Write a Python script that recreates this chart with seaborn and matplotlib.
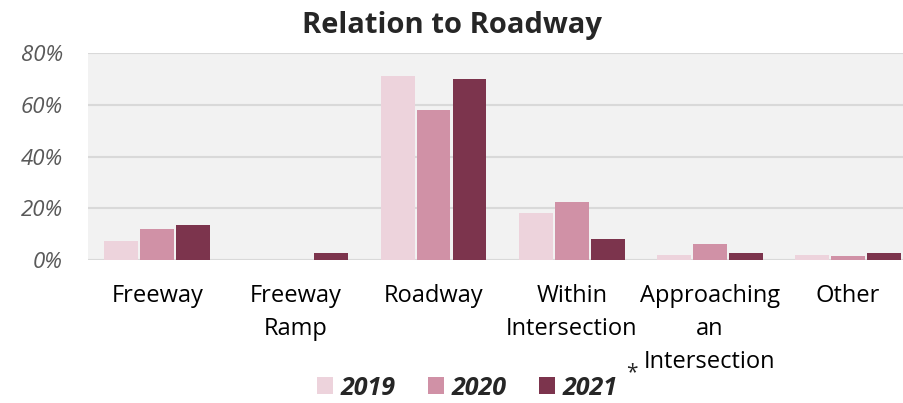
import matplotlib
matplotlib.use("Agg")
import matplotlib.pyplot as plt
from matplotlib.ticker import PercentFormatter
import pandas as pd
import seaborn as sns

categories = ["Freeway", "Freeway\nRamp", "Roadway", "Within\nIntersection",
              "Approaching\nan\nIntersection", "Other"]
years = ["2019", "2020", "2021"]
share_2019 = [0.073, 0.0, 0.710, 0.182, 0.019, 0.019]
share_2020 = [0.120, 0.0, 0.580, 0.224, 0.060, 0.015]
share_2021 = [0.135, 0.027, 0.700, 0.081, 0.027, 0.027]
colors = ["#EDD3DC", "#D091A6", "#7C344D"]

rows = []
for year, vals in zip(years, [share_2019, share_2020, share_2021]):
    for cat, v in zip(categories, vals):
        rows.append({"category": cat, "year": year, "share": v})
df = pd.DataFrame(rows)

sns.set_theme(style="white")
plt.rcParams["font.family"] = ["Open Sans", "DejaVu Sans"]

fig = plt.figure(figsize=(9.04, 4.03), dpi=100)
# plot area runs past the right edge of the picture, as in the original
ax = fig.add_axes([0.0975, 0.355, 0.917, 0.513])
ax.set_facecolor("#F2F2F2")

sns.barplot(data=df, x="category", y="share", hue="year", palette=colors,
            saturation=1, width=0.78, gap=0.06, linewidth=0, ax=ax, legend=True)

ax.set_ylim(0, 0.8)
ax.set_yticks([0, 0.2, 0.4, 0.6, 0.8])
ax.yaxis.set_major_formatter(PercentFormatter(1, decimals=0))
ax.grid(axis="y", color="#D9D9D9", linewidth=1.5)
ax.set_axisbelow(True)
for s in ax.spines.values():
    s.set_visible(False)
ax.set_xlabel("")
ax.set_ylabel("")
ax.tick_params(axis="y", labelsize=16, labelcolor="#595959", length=0, pad=18)
for t in ax.get_yticklabels():
    t.set_fontstyle("italic")
ax.tick_params(axis="x", labelsize=17, labelcolor="black", length=0, pad=17)
for t in ax.get_xticklabels():
    t.set_linespacing(1.5)

fig.text(0.5, 0.918, "Relation to Roadway", fontsize=21, fontweight="bold",
         ha="center", va="baseline")

handles, labels = ax.get_legend_handles_labels()
ax.legend_.remove()
leg = fig.legend(handles, labels, loc="center", bbox_to_anchor=(0.517, 0.037),
                 ncol=3, frameon=False, handlelength=0.65, handleheight=0.65,
                 handletextpad=0.3, columnspacing=1.3, borderpad=0.1,
                 prop={"size": 18, "weight": "bold", "style": "italic"})

fig.canvas.draw()
bb = leg.get_texts()[-1].get_window_extent()
inv = fig.transFigure.inverted()
x1, y1 = inv.transform((bb.x1, bb.y1))
fig.text(x1 + 0.009, y1 - 0.018, "*", fontsize=15, ha="left", va="bottom")

fig.savefig("out.png", dpi=100)
